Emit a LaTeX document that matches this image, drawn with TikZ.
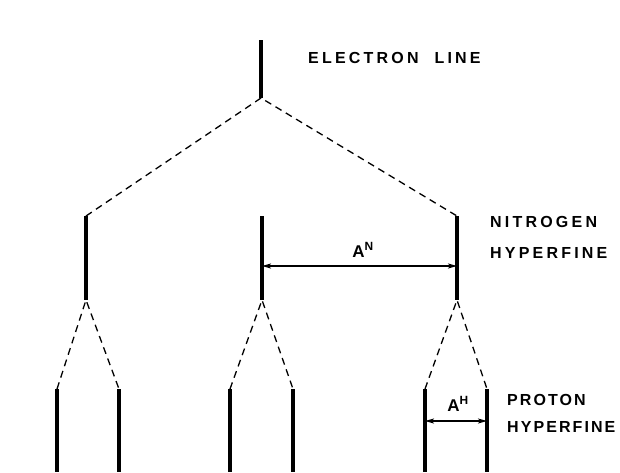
\documentclass[tikz,border=0pt]{standalone}
\usepackage{fontspec}
\setmainfont{Liberation Sans}
\usepackage{tikz}
\usetikzlibrary{arrows.meta}

\begin{document}
\begin{tikzpicture}[
  x=1pt, y=-1pt,
  font=\fontsize{16}{17}\selectfont\bfseries\addfontfeature{LetterSpace=20},
  line/.style={line width=3.2pt},
  split/.style={line width=1.3pt, dash pattern=on 7pt off 5pt},
  gap/.style={{Stealth[length=9pt,width=5pt,inset=2pt]}-{Stealth[length=9pt,width=5pt,inset=2pt]}, line width=1.2pt},
  lbl/.style={anchor=west, inner sep=0pt, align=left},
  sym/.style={inner sep=0pt, font=\fontsize{17}{18}\selectfont\bfseries}
]
\useasboundingbox (0,0) rectangle (620,472);
% electron line
\coordinate (e-t) at (261,40);
\coordinate (e-b) at (261,98);
\draw[line] (e-t) -- (e-b);
\node[lbl] (elbl) at (308,58) {ELECTRON\hspace{16pt}LINE};
% nitrogen hyperfine
\foreach \n/\x in {a/86, b/262, c/457} {
  \coordinate (n\n-t) at (\x,216);
  \coordinate (n\n-b) at (\x,300);
  \draw[line] (n\n-t) -- (n\n-b);
}
\draw[split] (na-t) -- (e-b) -- (nc-t);
\draw[gap] (nb-t |- 0,266) -- (nc-t |- 0,266);
\node[sym] (an) at (363,250) {A\textsuperscript{N}};
\node[lbl] (nlbl) at (490,237) {NITROGEN\\[14pt]HYPERFINE};
% proton hyperfine
\foreach \n/\l/\r in {a/57/119, b/230/293, c/425/487} {
  \coordinate (p\n-l) at (\l,389);
  \coordinate (p\n-lb) at (\l,472);
  \coordinate (p\n-r) at (\r,389);
  \coordinate (p\n-rb) at (\r,472);
  \draw[line] (p\n-l) -- (p\n-lb);
  \draw[line] (p\n-r) -- (p\n-rb);
  \draw[split] (p\n-l) -- (n\n-b) -- (p\n-r);
}
\draw[gap] (pc-l |- 0,421) -- (pc-r |- 0,421);
\node[sym] (ah) at (458,404) {A\textsuperscript{H}};
\node[lbl, font=\fontsize{16}{17}\selectfont\bfseries\addfontfeature{LetterSpace=13}] (plbl) at (507,413) {PROTON\\[10pt]HYPERFINE};
\end{tikzpicture}
\end{document}
